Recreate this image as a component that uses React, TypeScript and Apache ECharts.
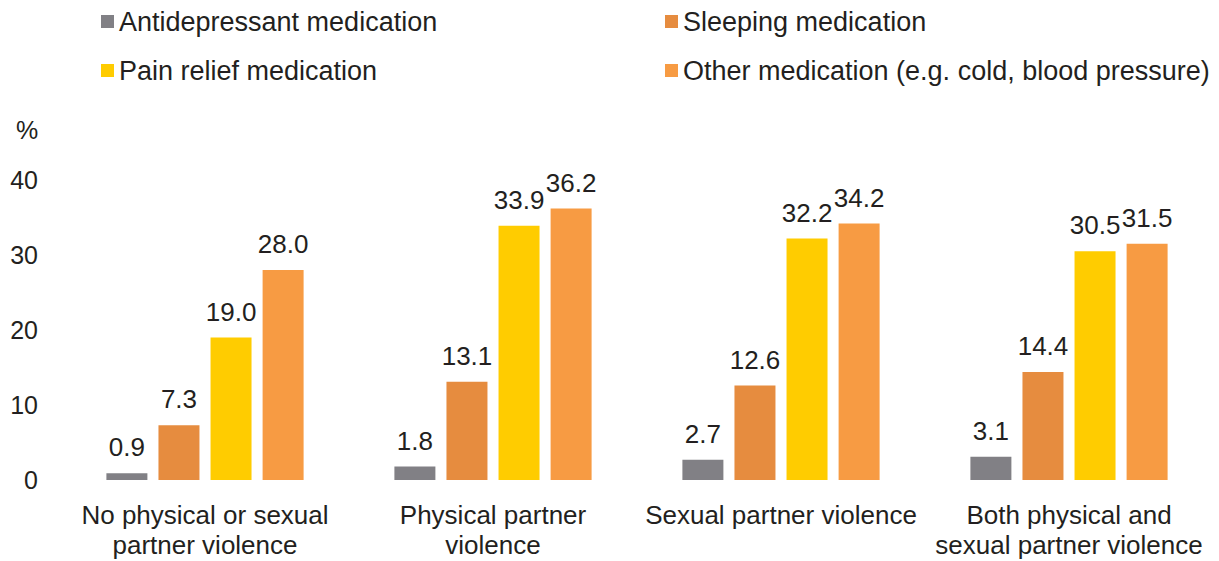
import React, { useEffect, useRef } from "react";
import * as echarts from "echarts";

const categories = [
  "No physical or sexual\npartner violence",
  "Physical partner\nviolence",
  "Sexual partner violence",
  "Both physical and\nsexual partner violence",
];
const seriesNames = [
  "Antidepressant medication",
  "Sleeping medication",
  "Pain relief medication",
  "Other medication (e.g. cold, blood pressure)",
];
const antidepressant = [0.9, 1.8, 2.7, 3.1];
const sleeping = [7.3, 13.1, 12.6, 14.4];
const painRelief = [19.0, 33.9, 32.2, 30.5];
const other = [28.0, 36.2, 34.2, 31.5];
const colors = ["#818085", "#E68C3F", "#FFCC00", "#F79B43"];
const yTicks = [0, 10, 20, 30, 40];

const FONT = "'Liberation Sans', Arial, sans-serif";
const TXT = "#231F20";

export default function App() {
  const ref = useRef<HTMLDivElement>(null);
  useEffect(() => {
    if (!ref.current) return;
    const chart = echarts.init(ref.current, null, { renderer: "svg" });
    const data = [antidepressant, sleeping, painRelief, other];
    const legendBase = {
      orient: "vertical",
      top: 8,
      padding: 0,
      itemWidth: 13,
      itemHeight: 13,
      itemGap: 22,
      icon: "rect",
      textStyle: { fontSize: 27, color: TXT, fontFamily: FONT },
    };
    chart.setOption({
      animation: false,
      textStyle: { fontFamily: FONT },
      legend: [
        { ...legendBase, left: 101, data: [seriesNames[0], seriesNames[2]] },
        { ...legendBase, left: 665, data: [seriesNames[1], seriesNames[3]] },
      ],
      graphic: [
        {
          type: "text",
          left: 16,
          top: 117,
          style: { text: "%", fontSize: 25, fill: TXT, fontFamily: FONT },
        },
      ],
      grid: { left: 61, right: 6, top: 180, bottom: 81, containLabel: false },
      xAxis: {
        type: "category",
        data: categories,
        axisLine: { show: false },
        axisTick: { show: false },
        axisLabel: {
          fontSize: 26,
          color: TXT,
          lineHeight: 30,
          margin: 20,
          interval: 0,
          fontFamily: FONT,
        },
      },
      yAxis: {
        type: "value",
        min: 0,
        max: yTicks[yTicks.length - 1],
        interval: 10,
        splitLine: { show: false },
        axisLine: { show: false },
        axisTick: { show: false },
        axisLabel: { fontSize: 25, color: TXT, margin: 23, fontFamily: FONT },
      },
      series: data.map((d, i) => ({
        type: "bar",
        name: seriesNames[i],
        data: d,
        barWidth: 41,
        barGap: "27%",
        itemStyle: { color: colors[i] },
        label: {
          show: true,
          position: "top",
          distance: 13,
          fontSize: 26,
          color: TXT,
          fontFamily: FONT,
          formatter: (p: any) => Number(p.value).toFixed(1),
        },
      })),
    });
    return () => chart.dispose();
  }, []);
  return (
    <div
      ref={ref}
      style={{ position: "absolute", left: 0, top: 0, width: 1219, height: 561 }}
    />
  );
}
